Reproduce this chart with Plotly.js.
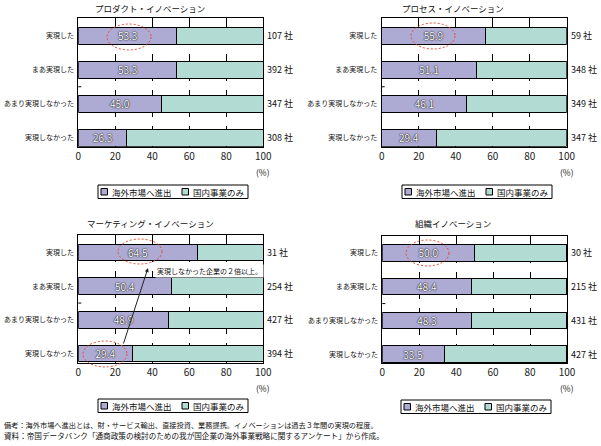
<!DOCTYPE html>
<html>
<head>
<meta charset="utf-8">
<script src="https://cdn.plot.ly/plotly-3.0.1.min.js"></script>
<style>html,body{margin:0;padding:0;background:#fff;}#chart{width:601px;height:446px;}</style>
</head>
<body>
<div id="chart"></div>
<script>
// ---- data ----
const categories = ['実現した', 'まあ実現した', 'あまり実現しなかった', '実現しなかった'];
const panelTitles = ['プロダクト・イノベーション', 'プロセス・イノベーション', 'マーケティング・イノベーション', '組織イノベーション'];
const seriesNames = ['海外市場へ進出', '国内事業のみ'];

const productOverseas   = [53.3, 53.3, 45.0, 26.3];
const productDomestic   = [46.7, 46.7, 55.0, 73.7];
const productCounts     = [107, 392, 347, 308];

const processOverseas   = [55.9, 51.1, 46.1, 29.4];
const processDomestic   = [44.1, 48.9, 53.9, 70.6];
const processCounts     = [59, 348, 349, 347];

const marketingOverseas = [64.5, 50.4, 48.9, 29.4];
const marketingDomestic = [35.5, 49.6, 51.1, 70.6];
const marketingCounts   = [31, 254, 427, 394];

const orgOverseas       = [50.0, 48.4, 48.3, 33.5];
const orgDomestic       = [50.0, 51.6, 51.7, 66.5];
const orgCounts         = [30, 215, 431, 427];

const xTicks = [0, 20, 40, 60, 80, 100];
const countSuffix = ' 社';
const unitLabel = '(%)';
const calloutText = '実現しなかった企業の２倍以上。';
const noteLines = [
  '備考：海外市場へ進出とは、財・サービス輸出、直接投資、業務提携。イノベーションは過去３年間の実現の程度。',
  '資料：帝国データバンク「通商政策の検討のための我が国企業の海外事業戦略に関するアンケート」から作成。'
];

// ---- styling/layout ----
const W = 601, H = 446;
const px = v => v / W;
const py = v => 1 - v / H;
const FONT = '"Noto Sans CJK JP", "Noto Sans", sans-serif';
const PURPLE = '#ADAAD3';
const TEAL = '#B2DCD3';

const panels = [
  {ov: productOverseas, dom: productDomestic, counts: productCounts, x: [78.3, 263.3], y: [18.3, 146.7], titleX: 150, titleY: 8, legend: [98, 185]},
  {ov: processOverseas, dom: processDomestic, counts: processCounts, x: [381.7, 566.7], y: [18.3, 146.7], titleX: 453, titleY: 8, legend: [402, 185]},
  {ov: marketingOverseas, dom: marketingDomestic, counts: marketingCounts, x: [78.3, 263.3], y: [235.2, 362.5], titleX: 150, titleY: 223, legend: [98, 399]},
  {ov: orgOverseas, dom: orgDomestic, counts: orgCounts, x: [382.3, 567], y: [235.7, 363], titleX: 453, titleY: 223, legend: [401, 400]}
];

const data = [];
const layout = {
  width: W, height: H,
  margin: {l: 0, r: 0, t: 0, b: 0},
  paper_bgcolor: '#fff', plot_bgcolor: '#fff',
  barmode: 'stack',
  bargap: 0.51,
  showlegend: false,
  font: {family: FONT, color: '#111'},
  annotations: [],
  shapes: []
};

panels.forEach((p, i) => {
  const sfx = i === 0 ? '' : String(i + 1);
  const xa = 'x' + sfx, ya = 'y' + sfx;
  data.push({
    type: 'bar', orientation: 'h', name: seriesNames[0],
    x: p.ov, y: categories, xaxis: xa, yaxis: ya,
    marker: {color: PURPLE, line: {color: '#000', width: 1}},
    text: p.ov.map(v => v.toFixed(1)),
    textposition: 'inside', insidetextanchor: 'middle', textangle: 0,
    constraintext: 'none',
    textfont: {family: FONT, size: 10, color: '#ffffff', shadow: '0px 0px 1.5px #000, 0px 0px 1px #000'},
    hoverinfo: 'skip'
  });
  data.push({
    type: 'bar', orientation: 'h', name: seriesNames[1],
    x: p.dom, y: categories, xaxis: xa, yaxis: ya,
    marker: {color: TEAL, line: {color: '#000', width: 1}},
    textposition: 'none',
    hoverinfo: 'skip'
  });
  layout['xaxis' + sfx] = {
    domain: [px(p.x[0]), px(p.x[1])],
    anchor: ya,
    range: [0, 100],
    tickvals: xTicks,
    ticktext: xTicks.map(String),
    showgrid: true, gridcolor: '#000', gridwidth: 1, griddash: 'dash',
    showline: true, linecolor: '#000', linewidth: 1, mirror: true,
    zeroline: false, ticks: '',
    tickfont: {family: FONT, size: 10, color: '#222'},
    fixedrange: true
  };
  layout['yaxis' + sfx] = {
    domain: [py(p.y[1]), py(p.y[0])],
    anchor: xa,
    type: 'category',
    categoryorder: 'array', categoryarray: categories,
    range: [3.26, -0.51],
    showgrid: false, zeroline: false,
    showline: true, linecolor: '#000', linewidth: 1, mirror: true,
    ticks: '', ticklabelstandoff: 2,
    tickfont: {family: FONT, size: 7, color: '#111'},
    fixedrange: true
  };
  // panel title
  layout.annotations.push({
    xref: 'paper', yref: 'paper', x: px(p.titleX), y: py(p.titleY),
    text: panelTitles[i], showarrow: false, xanchor: 'center', yanchor: 'middle',
    font: {family: FONT, size: 8.5, color: '#111'}
  });
  // counts at right
  categories.forEach((c, k) => {
    layout.annotations.push({
      xref: xa, yref: ya, x: 100, y: c, xanchor: 'left', yanchor: 'middle', xshift: 2,
      text: p.counts[k] + countSuffix, showarrow: false,
      font: {family: FONT, size: 9, color: '#111'}
    });
  });
  // unit label
  layout.annotations.push({
    xref: xa, yref: 'paper', x: 100, y: py(p.y[1] + 25), xanchor: 'center', yanchor: 'middle',
    text: unitLabel, showarrow: false, font: {family: FONT, size: 8.5, color: '#222'}
  });
  // small tick on left axis
  layout.shapes.push({
    type: 'line', xref: xa + ' domain', yref: ya, x0: 0, x1: 0.016, y0: 1.5, y1: 1.5,
    line: {color: '#000', width: 1}
  });
  // legend box
  const L = p.legend[0], T = p.legend[1];
  layout.shapes.push({type: 'rect', xref: 'paper', yref: 'paper', x0: px(L), x1: px(L + 150), y0: py(T), y1: py(T + 13.5), line: {color: '#000', width: 1}, fillcolor: '#fff'});
  layout.shapes.push({type: 'rect', xref: 'paper', yref: 'paper', x0: px(L + 3), x1: px(L + 9.5), y0: py(T + 3.5), y1: py(T + 10), line: {color: '#000', width: 1}, fillcolor: PURPLE});
  layout.shapes.push({type: 'rect', xref: 'paper', yref: 'paper', x0: px(L + 84), x1: px(L + 90.5), y0: py(T + 3.5), y1: py(T + 10), line: {color: '#000', width: 1}, fillcolor: TEAL});
  layout.annotations.push({xref: 'paper', yref: 'paper', x: px(L + 12), y: py(T + 7), xanchor: 'left', yanchor: 'middle', text: seriesNames[0], showarrow: false, font: {family: FONT, size: 8.5, color: '#111'}});
  layout.annotations.push({xref: 'paper', yref: 'paper', x: px(L + 93), y: py(T + 7), xanchor: 'left', yanchor: 'middle', text: seriesNames[1], showarrow: false, font: {family: FONT, size: 8.5, color: '#111'}});
});

// red dashed ellipses (decoration)
const ellipses = [[107, 24, 151, 50], [411, 23, 455, 49], [118, 239, 162, 264], [83, 341, 127, 367], [406, 240, 449, 266]];
ellipses.forEach(e => layout.shapes.push({
  type: 'circle', xref: 'paper', yref: 'paper',
  x0: px(e[0]), x1: px(e[2]), y0: py(e[3]), y1: py(e[1]),
  line: {color: '#E8452C', width: 1, dash: '2px,2px'}, fillcolor: 'rgba(0,0,0,0)'
}));

// callout text and arrow
layout.annotations.push({
  xref: 'paper', yref: 'paper', x: px(155), y: py(271), xanchor: 'left', yanchor: 'middle',
  text: calloutText, showarrow: false, bgcolor: '#fff', borderpad: 1,
  font: {family: FONT, size: 7, color: '#111'}
});
layout.annotations.push({
  xref: 'paper', yref: 'paper', x: px(148), y: py(268), ax: -25, ay: 77,
  text: '', showarrow: true, arrowhead: 2, arrowsize: 0.8, arrowwidth: 1, arrowcolor: '#222'
});

// notes
const noteSizes = [7.2, 7.6];
noteLines.forEach((t, i) => layout.annotations.push({
  xref: 'paper', yref: 'paper', x: px(2), y: py(425 + i * 10.5), xanchor: 'left', yanchor: 'middle',
  text: t, showarrow: false, font: {family: FONT, size: noteSizes[i], color: '#111'}
}));

Plotly.newPlot('chart', data, layout, {staticPlot: true, displayModeBar: false});
</script>
</body>
</html>
